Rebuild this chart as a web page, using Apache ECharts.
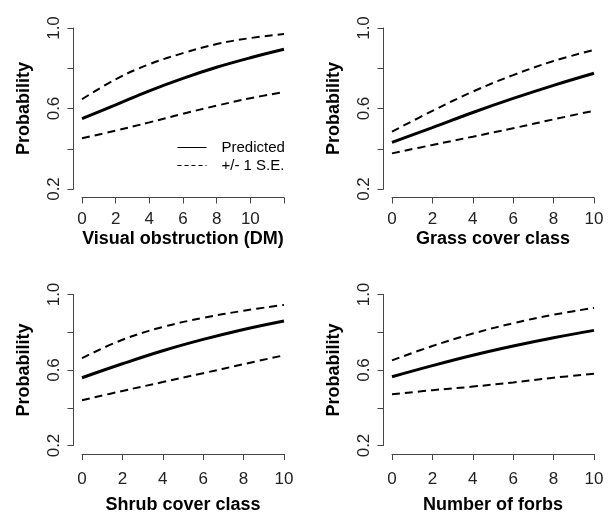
<!DOCTYPE html>
<html>
<head>
<meta charset="utf-8">
<script src="https://cdn.jsdelivr.net/npm/echarts@6/dist/echarts.min.js"></script>
<style>
  html, body { margin: 0; padding: 0; background: #fff; }
  #chart { width: 610px; height: 515px; }
</style>
</head>
<body>
<div id="chart"></div>
<script>
// x positions
const xVisual = [0, 2, 4, 6, 8, 10, 12];
const xClass = [0, 2, 4, 6, 8, 10];

// panel 1 - visual obstruction
const predVisual = [0.550, 0.618, 0.688, 0.750, 0.805, 0.852, 0.894];
const upperVisual = [0.646, 0.745, 0.820, 0.875, 0.920, 0.950, 0.970];
const lowerVisual = [0.452, 0.490, 0.531, 0.574, 0.614, 0.651, 0.682];

// panel 2 - grass cover
const predGrass = [0.432, 0.505, 0.580, 0.650, 0.715, 0.775];
const upperGrass = [0.485, 0.588, 0.684, 0.766, 0.836, 0.891];
const lowerGrass = [0.377, 0.419, 0.460, 0.502, 0.546, 0.589];

// panel 3 - shrub cover
const predShrub = [0.559, 0.633, 0.702, 0.762, 0.815, 0.860];
const upperShrub = [0.663, 0.760, 0.828, 0.876, 0.914, 0.945];
const lowerShrub = [0.440, 0.489, 0.536, 0.583, 0.631, 0.678];

// panel 4 - forbs
const predForbs = [0.564, 0.623, 0.678, 0.727, 0.771, 0.810];
const upperForbs = [0.651, 0.727, 0.793, 0.848, 0.893, 0.929];
const lowerForbs = [0.471, 0.493, 0.512, 0.534, 0.559, 0.580];

const xTitles = ['Visual obstruction (DM)', 'Grass cover class', 'Shrub cover class', 'Number of forbs'];
const yTitle = 'Probability';
const yTicks = [0.2, 0.4, 0.6, 0.8, 1.0];
const yTickLabels = ['0.2', '', '0.6', '', '1.0'];
const xTickLabelsVisual = ['0', '2', '4', '6', '8', '10', ''];
const xTickLabelsClass = ['0', '2', '4', '6', '8', '10'];
const legendNames = ['Predicted', '+/- 1 S.E.'];

const FONT = 'Liberation Sans, Arial, sans-serif';
const AXIS_COLOR = '#444';

const panels = [
  { x: xVisual, xMax: 12, xLabels: xTickLabelsVisual, pred: predVisual, upper: upperVisual, lower: lowerVisual },
  { x: xClass, xMax: 10, xLabels: xTickLabelsClass, pred: predGrass, upper: upperGrass, lower: lowerGrass },
  { x: xClass, xMax: 10, xLabels: xTickLabelsClass, pred: predShrub, upper: upperShrub, lower: lowerShrub },
  { x: xClass, xMax: 10, xLabels: xTickLabelsClass, pred: predForbs, upper: upperForbs, lower: lowerForbs },
];

const grids = [
  { left: 82, top: 28, width: 202, height: 161 },
  { left: 392, top: 28, width: 202, height: 161 },
  { left: 82, top: 294.5, width: 202, height: 161 },
  { left: 392, top: 294.5, width: 202, height: 161 },
];
// bottom row sits a little lower in its cell
const labelMargins = [13, 13, 17, 17];
const nameGaps = [32.5, 32.5, 42, 42];

const axisCommon = {
  axisLine: { show: true, onZero: false, lineStyle: { color: AXIS_COLOR, width: 1 } },
  axisTick: { show: true, length: 6, lineStyle: { color: AXIS_COLOR, width: 1 } },
  splitLine: { show: false },
};

const xAxes = panels.map((p, i) => ({
  ...axisCommon,
  type: 'value',
  gridIndex: i,
  min: 0,
  max: p.xMax,
  interval: 2,
  offset: 8.5,
  name: xTitles[i],
  nameLocation: 'middle',
  nameGap: nameGaps[i],
  nameTextStyle: { fontFamily: FONT, fontSize: 18, fontWeight: 'bold', color: '#000' },
  axisLabel: {
    margin: labelMargins[i],
    fontFamily: FONT,
    fontSize: 17,
    color: '#222',
    showMaxLabel: true,
    formatter: v => p.xLabels[Math.round(v / 2)] || '',
  },
}));

const yAxes = panels.map((p, i) => ({
  ...axisCommon,
  type: 'value',
  gridIndex: i,
  min: 0.2,
  max: 1.0,
  interval: 0.2,
  offset: 8.5,
  name: yTitle,
  nameLocation: 'middle',
  nameRotate: 90,
  nameGap: 40,
  nameTextStyle: { fontFamily: FONT, fontSize: 18, fontWeight: 'bold', color: '#000' },
  axisLabel: {
    rotate: 90,
    margin: 11,
    fontFamily: FONT,
    fontSize: 17,
    color: '#222',
    showMaxLabel: true,
    formatter: v => {
      const k = yTicks.findIndex(t => Math.abs(t - v) < 1e-6);
      return k >= 0 ? yTickLabels[k] : '';
    },
  },
}));

const series = [];
panels.forEach((p, i) => {
  const pairs = arr => p.x.map((x, j) => [x, arr[j]]);
  series.push({
    name: i === 0 ? legendNames[0] : 'pred' + i,
    type: 'line', xAxisIndex: i, yAxisIndex: i,
    data: pairs(p.pred), smooth: 0.4, symbol: 'none',
    lineStyle: { color: '#000', width: 3 }, itemStyle: { color: '#000' },
  });
  series.push({
    name: i === 0 ? legendNames[1] : 'upper' + i,
    type: 'line', xAxisIndex: i, yAxisIndex: i,
    data: pairs(p.upper), smooth: 0.4, symbol: 'none',
    lineStyle: { color: '#000', width: 2, type: [8, 5] }, itemStyle: { color: '#000' },
  });
  series.push({
    name: 'lower' + i,
    type: 'line', xAxisIndex: i, yAxisIndex: i,
    data: pairs(p.lower), smooth: 0.4, symbol: 'none',
    lineStyle: { color: '#000', width: 2, type: [8, 5] }, itemStyle: { color: '#000' },
  });
});

const chart = echarts.init(document.getElementById('chart'), null, { renderer: 'canvas' });
chart.setOption({
  backgroundColor: '#fff',
  animation: false,
  grid: grids,
  xAxis: xAxes,
  yAxis: yAxes,
  legend: {
    data: [
      { name: legendNames[0], lineStyle: { width: 1, type: 'solid' }, itemStyle: { opacity: 0 } },
      { name: legendNames[1], lineStyle: { width: 1, type: [4, 3] }, itemStyle: { opacity: 0 } },
    ],
    orient: 'vertical',
    left: 172,
    top: 135,
    itemWidth: 29,
    itemHeight: 14,
    itemGap: 3,
    selectedMode: false,
    textStyle: { fontFamily: FONT, fontSize: 15, color: '#000', padding: [0, 0, 0, 10] },
  },
  series: series,
});
</script>
</body>
</html>
